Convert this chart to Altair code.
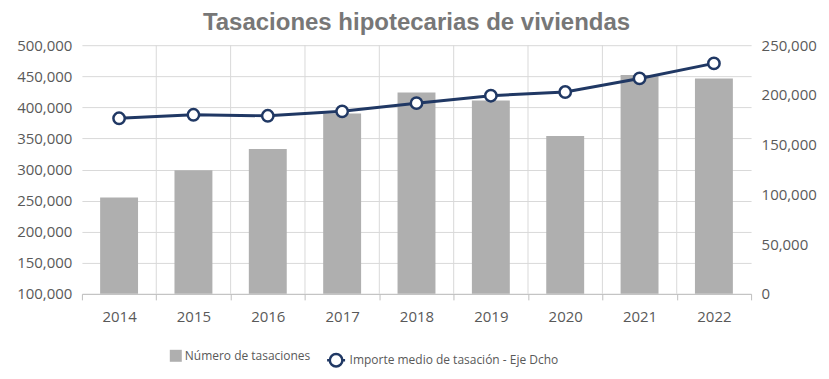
import altair as alt
import pandas as pd

years = ["2014", "2015", "2016", "2017", "2018", "2019", "2020", "2021", "2022"]
tasaciones = [255000, 299000, 333000, 390000, 424000, 411000, 354000, 452000, 446500]
importe = [176500, 180000, 179000, 183500, 191700, 199200, 202900, 216600, 231700]

left_ticks = [100000, 150000, 200000, 250000, 300000, 350000, 400000, 450000, 500000]
right_ticks = [0, 50000, 100000, 150000, 200000, 250000]

bar_label = "Número de tasaciones"
line_label = "Importe medio de tasación - Eje Dcho"

df = pd.DataFrame({
    "year": years,
    "tasaciones": tasaciones,
    "importe": importe,
    "s_bar": [bar_label] * len(years),
    "s_line": [line_label] * len(years),
})

FONT = "Open Sans"
TXT = "#595959"
GRID = "#d9d9d9"
NAVY = "#203864"
BAR = "#afafaf"

x_scale = alt.Scale(paddingInner=0, paddingOuter=0)
x_axis = alt.Axis(
    labelAngle=0,
    tickBand="extent",
    grid=False,
    domainColor="#bfbfbf",
    tickColor="#bfbfbf",
    tickSize=6,
    labelPadding=10,
    labelFont=FONT,
    labelFontSize=15,
    labelColor=TXT,
)

x = alt.X("year:N", sort=years, title=None, scale=x_scale, axis=x_axis)

# vertical grid lines at the boundaries between years
vgrid = (
    alt.Chart(df)
    .transform_filter(alt.datum.year != years[-1])
    .mark_rule(color=GRID, strokeWidth=1)
    .encode(x=alt.X("year:N", sort=years, bandPosition=1, title=None, scale=x_scale, axis=x_axis))
)

bars = alt.Chart(df).mark_bar(clip=True, width=alt.RelativeBandSize(0.51)).encode(
    x=x,
    y=alt.Y(
        "tasaciones:Q",
        title=None,
        scale=alt.Scale(domain=[100000, 500000]),
        axis=alt.Axis(
            values=left_ticks,
            format=",.0f",
            grid=True,
            gridColor=GRID,
            domain=False,
            ticks=False,
            labelPadding=10,
            labelFont=FONT,
            labelFontSize=15,
            labelColor=TXT,
        ),
    ),
    fill=alt.Fill(
        "s_bar:N",
        scale=alt.Scale(domain=[bar_label], range=[BAR]),
        legend=alt.Legend(
            title=None,
            orient="none",
            legendX=88,
            legendY=305,
            symbolType="square",
            symbolSize=144,
            symbolStrokeWidth=0,
            labelFont=FONT,
            labelFontSize=12,
            labelColor=TXT,
            labelOffset=3,
            labelLimit=500,
        ),
    ),
)

y_right = alt.Y(
    "importe:Q",
    title=None,
    scale=alt.Scale(domain=[0, 250000]),
    axis=alt.Axis(
        orient="right",
        values=right_ticks,
        format=",.0f",
        grid=False,
        domain=False,
        ticks=False,
        labelPadding=10,
        labelFont=FONT,
        labelFontSize=15,
        labelColor=TXT,
    ),
)

line = alt.Chart(df).mark_line(color=NAVY, strokeWidth=3).encode(x=x, y=y_right)

points = alt.Chart(df).mark_point(
    filled=True, fill="white", strokeWidth=2.5, size=130, opacity=1
).encode(
    x=x,
    y=y_right,
    stroke=alt.Stroke(
        "s_line:N",
        scale=alt.Scale(domain=[line_label], range=[NAVY]),
        legend=alt.Legend(
            title=None,
            orient="none",
            legendX=244,
            legendY=305,
            symbolType="M-1,0L-0.7,0M0.7,0L1,0M0.7,0A0.7,0.7,0,1,1,-0.7,0A0.7,0.7,0,1,1,0.7,0Z",
            symbolSize=324,
            symbolFillColor="white",
            symbolStrokeWidth=2.5,
            labelFont=FONT,
            labelFontSize=12,
            labelColor=TXT,
            labelOffset=3,
            labelLimit=500,
        ),
    ),
)

left_layer = alt.layer(vgrid, bars)
right_layer = alt.layer(line, points)

chart = (
    alt.layer(left_layer, right_layer)
    .resolve_scale(y="independent", fill="independent", stroke="independent")
    .properties(
        width=670,
        height=249,
        padding={"left": 74, "top": 37, "right": 70, "bottom": 80},
        autosize=alt.AutoSizeParams(type="none"),
        title=alt.TitleParams(
            "Tasaciones hipotecarias de viviendas",
            font="Liberation Sans",
            fontSize=24,
            fontWeight="bold",
            color="#777777",
            anchor="middle",
            offset=3,
        ),
    )
    .configure_view(stroke=None)
)

chart.save("out.html", embed_options={"renderer": "svg", "actions": False})
